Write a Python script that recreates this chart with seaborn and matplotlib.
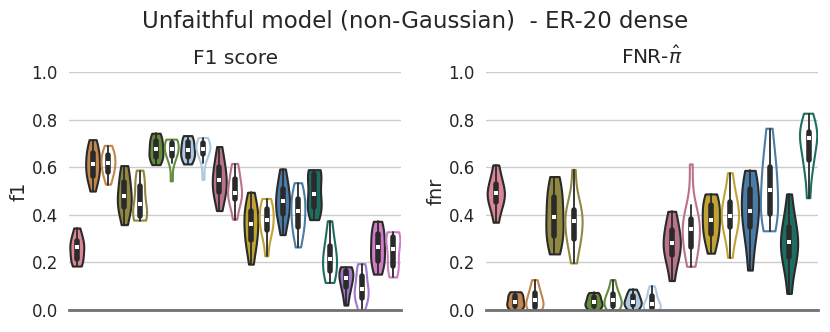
import matplotlib
matplotlib.use("Agg")
import matplotlib.pyplot as plt
import seaborn as sns
import pandas as pd

# slot colours (left to right); filled / unfilled violins alternate after the first
c_pink = "#e8798c"
c_orange = "#d4873a"
c_olive = "#9c9333"
c_green = "#629a30"
c_lblue = "#a6c9e9"
c_rosy = "#c6678a"
c_gold = "#d9b11c"
c_blue = "#3a7db8"
c_teal = "#117a6a"
c_purple = "#9f6dd4"
c_magenta = "#db70d0"

f1_slots = ["pink", "orange_a", "orange_b", "olive_a", "olive_b", "green_a", "green_b",
            "lblue_a", "lblue_b", "rosy_a", "rosy_b", "gold_a", "gold_b", "blue_a", "blue_b",
            "teal_a", "teal_b", "purple_a", "purple_b", "magenta_a", "magenta_b"]
fnr_slots = f1_slots[:17]

slot_colors = [c_pink, c_orange, c_orange, c_olive, c_olive, c_green, c_green,
               c_lblue, c_lblue, c_rosy, c_rosy, c_gold, c_gold, c_blue, c_blue,
               c_teal, c_teal, c_purple, c_purple, c_magenta, c_magenta]

# "_b" slots are drawn as outlines only
f1_values = [
    [.185, .20, .21, .22, .25, .264, .27, .28, .30, .32, .345],
    [.50, .55, .56, .57, .60, .614, .63, .65, .67, .69, .716],
    [.527, .56, .575, .585, .61, .617, .625, .645, .655, .67, .69],
    [.359, .40, .425, .44, .46, .478, .50, .52, .555, .58, .607],
    [.376, .38, .39, .40, .42, .446, .47, .51, .535, .56, .586],
    [.611, .63, .64, .645, .66, .677, .69, .70, .72, .73, .743],
    [.541, .62, .645, .65, .665, .677, .685, .695, .71, .713, .716],
    [.614, .63, .64, .65, .66, .673, .685, .695, .715, .725, .733],
    [.547, .62, .65, .66, .67, .677, .685, .695, .705, .715, .723],
    [.418, .47, .49, .50, .53, .548, .56, .59, .61, .64, .687],
    [.38, .43, .46, .475, .485, .49, .51, .54, .56, .585, .614],
    [.193, .26, .285, .30, .34, .362, .38, .41, .425, .45, .495],
    [.226, .30, .33, .34, .36, .38, .395, .415, .435, .45, .467],
    [.317, .37, .40, .41, .44, .457, .47, .50, .52, .55, .593],
    [.263, .32, .34, .355, .39, .415, .43, .46, .475, .50, .533],
    [.38, .41, .425, .44, .46, .488, .52, .565, .575, .58, .59],
    [.114, .13, .155, .175, .20, .214, .23, .255, .285, .32, .373],
    [.021, .06, .09, .10, .12, .133, .145, .16, .17, .175, .182],
    [.0, .03, .045, .06, .075, .087, .10, .13, .158, .175, .193],
    [.151, .18, .20, .215, .24, .263, .28, .31, .33, .35, .373],
    [.137, .16, .18, .19, .23, .255, .28, .30, .31, .32, .327],
]

fnr_values = [
    [.369, .42, .445, .46, .48, .491, .50, .52, .54, .57, .61],
    [0, .01, .015, .02, .03, .035, .045, .055, .065, .07, .077],
    [0, .005, .01, .015, .03, .042, .05, .065, .08, .10, .126],
    [.236, .28, .30, .325, .36, .393, .42, .46, .49, .52, .561],
    [.196, .27, .295, .305, .35, .373, .39, .41, .43, .46, .589],
    [0, .01, .015, .02, .027, .032, .04, .05, .06, .067, .074],
    [0, .008, .012, .02, .032, .042, .05, .06, .075, .095, .126],
    [0, .01, .018, .025, .03, .036, .045, .055, .065, .075, .088],
    [0, .003, .006, .01, .018, .025, .035, .05, .065, .08, .10],
    [.124, .19, .225, .24, .265, .282, .30, .32, .35, .38, .415],
    [.182, .23, .255, .275, .32, .341, .36, .375, .39, .44, .612],
    [.239, .29, .31, .33, .36, .379, .40, .43, .45, .47, .488],
    [.219, .30, .34, .355, .38, .397, .415, .44, .465, .50, .575],
    [.168, .27, .33, .365, .40, .418, .45, .50, .52, .55, .587],
    [.331, .37, .395, .41, .46, .505, .54, .58, .62, .68, .762],
    [.07, .17, .21, .235, .26, .285, .30, .33, .365, .40, .488],
    [.47, .58, .62, .64, .70, .723, .735, .745, .75, .78, .825],
]


def to_long(slots, values, col):
    rows = []
    for s, vals in zip(slots, values):
        for v in vals:
            rows.append({"method": s, col: v})
    return pd.DataFrame(rows)


def violin_panel(ax, df, col, slots, title):
    palette = dict(zip(f1_slots, slot_colors))
    filled = df[~df["method"].str.endswith("_b")]
    hollow = df[df["method"].str.endswith("_b")]
    kw = dict(x="method", y=col, hue="method", order=slots, palette=palette,
              legend=False, cut=0, density_norm="width", inner="box",
              inner_kws=dict(box_width=4, whis_width=1.3, marker="s",
                             markersize=2.2, markeredgewidth=0),
              linewidth=1.5, linecolor="#2a2a2a", width=0.88, ax=ax)
    sns.violinplot(data=filled, **kw)
    n_before = len(ax.collections)
    sns.violinplot(data=hollow, **kw)
    for coll in ax.collections[n_before:]:
        if isinstance(coll, matplotlib.collections.PolyCollection):
            fc = coll.get_facecolor()[0]
            coll.set_facecolor("none")
            coll.set_edgecolor(fc)
    ax.set_ylim(0, 1.0)
    ax.set_xlabel("")
    ax.set_ylabel(col, fontsize=14, labelpad=2)
    ax.set_title(title, fontsize=14.5)
    ax.set_xticks([])
    ax.grid(axis="x", visible=False)
    sns.despine(ax=ax, left=True, top=True, right=True)
    ax.spines["bottom"].set_color("#707070")
    ax.spines["bottom"].set_linewidth(2)
    ax.tick_params(axis="y", labelsize=12, length=0, pad=8)


sns.set_theme(style="whitegrid")
plt.rcParams["font.family"] = ["DejaVu Sans"]

fig, axes = plt.subplots(1, 2, figsize=(8.3, 3.32), dpi=100)
violin_panel(axes[0], to_long(f1_slots, f1_values, "f1"), "f1", f1_slots, "F1 score")
violin_panel(axes[1], to_long(fnr_slots, fnr_values, "fnr"), "fnr", fnr_slots, r"FNR-$\hat{\pi}$")
fig.suptitle("Unfaithful model (non-Gaussian)  - ER-20 dense", fontsize=16.5, y=0.97)
fig.subplots_adjust(left=0.083, right=0.986, bottom=0.066, top=0.783, wspace=0.255)
fig.savefig("out.png", dpi=100)
